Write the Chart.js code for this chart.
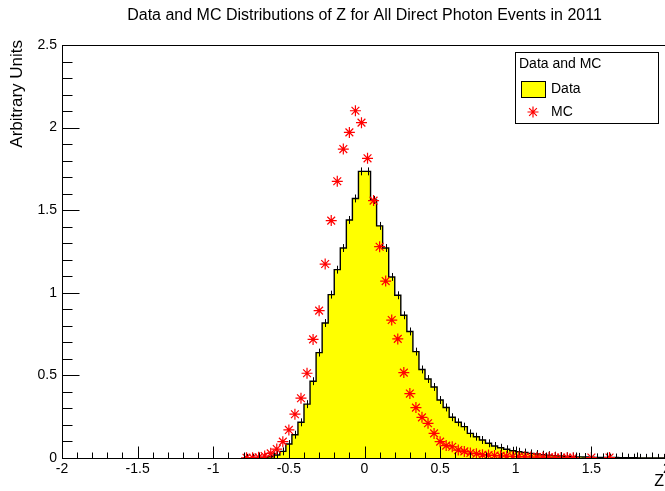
<!DOCTYPE html>
<html>
<head>
<meta charset="utf-8">
<script src="https://cdn.jsdelivr.net/npm/chart.js@4.4.1/dist/chart.umd.min.js"></script>
<style>
  html, body { margin: 0; padding: 0; background: #fff; overflow: hidden; }
  #wrap { width: 680px; height: 491px; position: relative; }
</style>
</head>
<body>
<div id="wrap"><canvas id="zChart"></canvas></div>
<script>
const titleText = "Data and MC Distributions of Z for All Direct Photon Events in 2011";
const xTitle = "Z";
const yTitle = "Arbitrary Units";
const legendHeader = "Data and MC";

// histogram binning: 100 bins of 0.04 from -2 to 2, values start at bin 30 (z = -0.8)
const zMin = -2, zMax = 2, binWidth = 0.04;
const firstBin = 30;

const dataValues = [
  0.001, 0.002, 0.003, 0.004, 0.008, 0.018, 0.040, 0.085, 0.141, 0.216,
  0.326, 0.465, 0.638, 0.817, 0.989, 1.140, 1.271, 1.441, 1.571, 1.735,
  1.735, 1.562, 1.405, 1.271, 1.096, 0.985, 0.864, 0.766, 0.644, 0.536,
  0.478, 0.430, 0.351, 0.306, 0.247, 0.216, 0.190, 0.149, 0.129, 0.109,
  0.089, 0.073, 0.062, 0.053, 0.044, 0.038, 0.033, 0.028, 0.024, 0.020,
  0.017, 0.014, 0.012, 0.010, 0.008, 0.007, 0.006, 0.005, 0.004, 0.004,
  0.003, 0.003, 0.002, 0.002, 0.002, 0.001, 0.001, 0.001, 0.001, 0.001
];
const dataErr = 0.024;

const mcValues = [
  0.001, 0.002, 0.004, 0.012, 0.028, 0.054, 0.099, 0.170, 0.265, 0.362,
  0.513, 0.718, 0.892, 1.174, 1.437, 1.675, 1.870, 1.971, 2.102, 2.030,
  1.814, 1.558, 1.279, 1.071, 0.835, 0.721, 0.517, 0.390, 0.305, 0.246,
  0.210, 0.149, 0.099, 0.075, 0.068, 0.048, 0.040, 0.030, 0.026, 0.020,
  0.018, 0.015, 0.013, 0.011, 0.009, 0.008, 0.007, 0.006, 0.005, 0.005,
  0.004, 0.003, 0.003, 0.002, 0.002, null, null, 0.003, null, null,
  0.003
];

const xTickValues = [-2, -1.5, -1, -0.5, 0, 0.5, 1, 1.5, 2];
const yTickValues = [0, 0.5, 1, 1.5, 2, 2.5];

const lowEdge = i => zMin + (firstBin + i) * binWidth;
const center = i => lowEdge(i) + binWidth / 2;

const histPoints = dataValues.map((v, i) => ({ x: lowEdge(i), y: v }));
histPoints.push({ x: zMax, y: dataValues[dataValues.length - 1] });

const mcPoints = [];
mcValues.forEach((v, i) => { if (v !== null) mcPoints.push({ x: center(i), y: v }); });

Chart.defaults.font.family = "'Liberation Sans', Arial, sans-serif";
Chart.defaults.color = "#000";

const fontStr = size => size + "px 'Liberation Sans', Arial, sans-serif";

const rootStyle = {
  id: "rootStyle",
  afterDatasetDraw(chart, args) {
    if (args.index !== 1) return;
    const { ctx, chartArea: a } = chart;
    const xs = chart.scales.x, ys = chart.scales.y;
    ctx.save();
    ctx.beginPath();
    ctx.rect(a.left, a.top, a.right - a.left, a.bottom - a.top);
    ctx.clip();
    ctx.strokeStyle = "#000";
    ctx.lineWidth = 1;
    ctx.beginPath();
    dataValues.forEach((v, i) => {
      if (!v) return;
      const px = Math.round(xs.getPixelForValue(center(i))) + 0.5;
      ctx.moveTo(px, ys.getPixelForValue(Math.max(0, v - dataErr)));
      ctx.lineTo(px, ys.getPixelForValue(v + dataErr));
    });
    ctx.stroke();
    ctx.restore();
  },
  afterDraw(chart) {
    const { ctx, chartArea: a } = chart;
    const xs = chart.scales.x, ys = chart.scales.y;
    ctx.save();
    ctx.strokeStyle = "#000";
    ctx.lineWidth = 1;
    // frame
    ctx.strokeRect(Math.round(a.left) + 0.5, Math.round(a.top) + 0.5,
      Math.round(a.right - a.left), Math.round(a.bottom - a.top));
    // inward ticks
    ctx.beginPath();
    const xb = Math.round(a.bottom) + 0.5;
    for (let k = 0; k <= 40; k++) {
      const v = zMin + k * 0.1;
      const px = Math.round(xs.getPixelForValue(v)) + 0.5;
      const len = (k % 5 === 0) ? 12 : 6;
      ctx.moveTo(px, xb);
      ctx.lineTo(px, xb - len);
    }
    const yl = Math.round(a.left) + 0.5;
    for (let k = 0; k <= 25; k++) {
      const v = k * 0.1;
      const py = Math.round(ys.getPixelForValue(v)) + 0.5;
      const len = (k % 5 === 0) ? 17 : 10;
      ctx.moveTo(yl, py);
      ctx.lineTo(yl + len, py);
    }
    ctx.stroke();

    // axis titles
    ctx.fillStyle = "#000";
    ctx.font = fontStr(16);
    ctx.textAlign = "right";
    ctx.textBaseline = "middle";
    ctx.fillText(xTitle, 664, 482);
    ctx.save();
    ctx.translate(17, 40);
    ctx.rotate(-Math.PI / 2);
    ctx.font = fontStr(17);
    ctx.fillText(yTitle, 0, 0);
    ctx.restore();

    // legend
    const L = 515.5, T = 52.5, W = 143, H = 71;
    ctx.fillStyle = "#fff";
    ctx.fillRect(L, T, W, H);
    ctx.strokeRect(L, T, W, H);
    ctx.fillStyle = "#000";
    ctx.font = fontStr(14);
    ctx.textAlign = "left";
    ctx.fillText(legendHeader, 519, 64);
    const ds = chart.data.datasets;
    ctx.fillStyle = ds[1].backgroundColor;
    ctx.fillRect(521.5, 81.5, 24, 16);
    ctx.strokeRect(521.5, 81.5, 24, 16);
    ctx.fillStyle = "#000";
    ctx.fillText(ds[1].label, 551, 89);
    ctx.strokeStyle = ds[0].pointBorderColor;
    ctx.fillStyle = ds[0].pointBackgroundColor;
    ctx.lineWidth = ds[0].pointBorderWidth;
    Chart.helpers.drawPoint(ctx, {
      pointStyle: "star", radius: ds[0].pointRadius, borderWidth: ds[0].pointBorderWidth,
      rotation: 0
    }, 533, 112);
    ctx.fillStyle = "#000";
    ctx.fillText(ds[0].label, 551, 112);
    ctx.restore();
  }
};

new Chart(document.getElementById("zChart"), {
  type: "line",
  data: {
    datasets: [
      {
        label: "MC",
        data: mcPoints,
        showLine: false,
        pointStyle: "star",
        pointRadius: 5.5,
        pointBorderWidth: 1.2,
        pointBorderColor: "#ff0000",
        pointBackgroundColor: "#ff0000",
        order: 1
      },
      {
        label: "Data",
        data: histPoints,
        stepped: "before",
        fill: "origin",
        backgroundColor: "#ffff00",
        borderColor: "#000000",
        borderWidth: 1.4,
        pointRadius: 0,
        order: 2
      }
    ]
  },
  options: {
    responsive: true,
    maintainAspectRatio: false,
    animation: false,
    events: [],
    layout: { padding: { left: 0, right: 13, top: 0, bottom: 0 } },
    plugins: {
      legend: { display: false },
      tooltip: { enabled: false },
      title: {
        display: true,
        text: titleText,
        fullSize: false,
        color: "#000",
        font: { size: 16, weight: "normal", lineHeight: 1 },
        padding: { top: 8, bottom: 21 }
      }
    },
    scales: {
      x: {
        type: "linear",
        min: zMin,
        max: zMax,
        afterBuildTicks: s => { s.ticks = xTickValues.map(v => ({ value: v })); },
        afterFit: s => { s.height = 33; },
        ticks: { callback: v => String(v), font: { size: 14 }, color: "#000", padding: 3, maxRotation: 0, autoSkip: false },
        grid: { display: false, drawTicks: false },
        border: { display: false }
      },
      y: {
        min: 0,
        max: 2.5,
        afterBuildTicks: s => { s.ticks = yTickValues.map(v => ({ value: v })); },
        afterFit: s => { s.width = 62; },
        ticks: { callback: v => String(v), font: { size: 14 }, color: "#000", padding: 5 },
        grid: { display: false, drawTicks: false },
        border: { display: false }
      }
    }
  },
  plugins: [rootStyle]
});
</script>
</body>
</html>
